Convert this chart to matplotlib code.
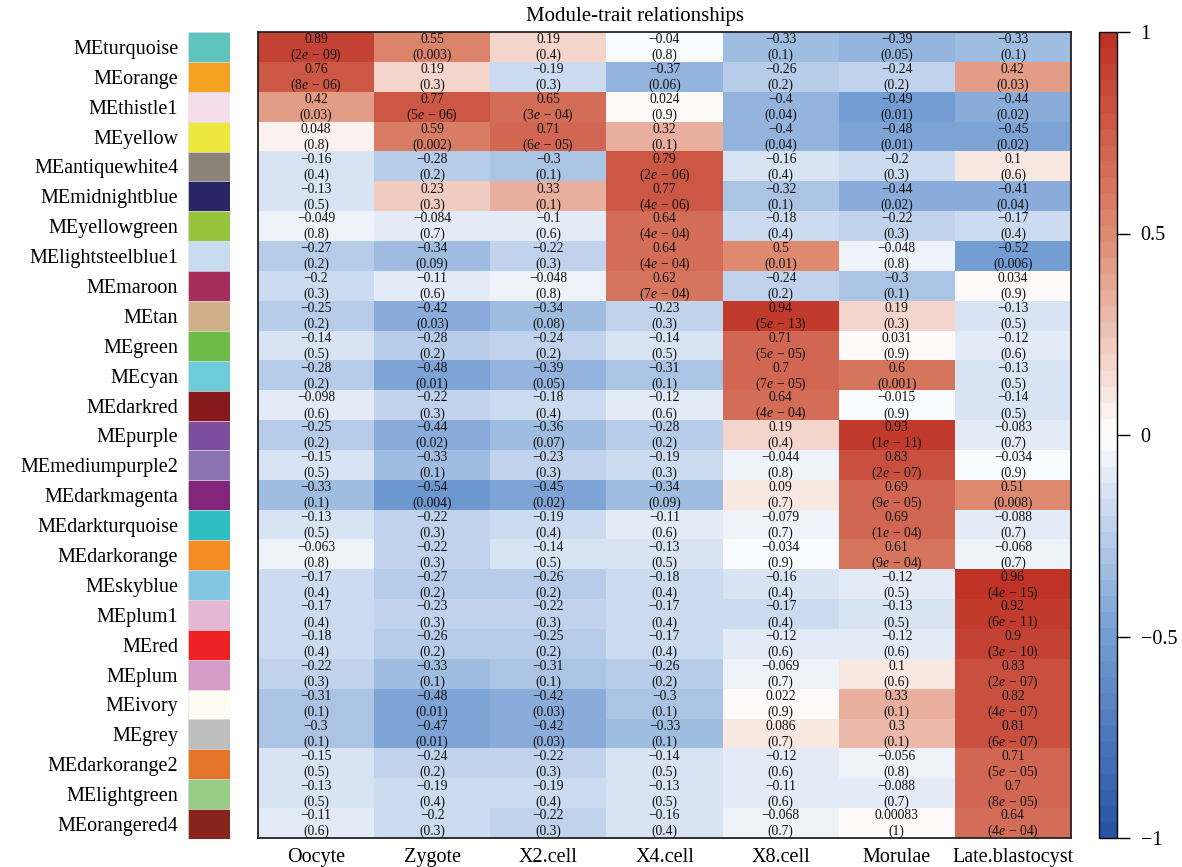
import numpy as np
import matplotlib
matplotlib.use("Agg")
import matplotlib.pyplot as plt
from matplotlib.colors import LinearSegmentedColormap, Normalize
from matplotlib.cm import ScalarMappable

plt.rcParams["font.family"] = ["Liberation Serif", "DejaVu Serif"]
plt.rcParams["mathtext.fontset"] = "custom"
plt.rcParams["mathtext.rm"] = "Liberation Serif"
plt.rcParams["mathtext.it"] = "Liberation Serif:italic"

# ---- data -------------------------------------------------------------
traits = ["Oocyte", "Zygote", "X2.cell", "X4.cell", "X8.cell", "Morulae", "Late.blastocyst"]

modules = ["MEturquoise", "MEorange", "MEthistle1", "MEyellow", "MEantiquewhite4",
           "MEmidnightblue", "MEyellowgreen", "MElightsteelblue1", "MEmaroon", "MEtan",
           "MEgreen", "MEcyan", "MEdarkred", "MEpurple", "MEmediumpurple2",
           "MEdarkmagenta", "MEdarkturquoise", "MEdarkorange", "MEskyblue", "MEplum1",
           "MEred", "MEplum", "MEivory", "MEgrey", "MEdarkorange2", "MElightgreen",
           "MEorangered4"]

module_colors = ["#5FC4BE", "#F5A223", "#F5DEEC", "#EEE83E", "#8B8378",
                 "#282664", "#96C43C", "#C8DCF0", "#A62C5A", "#D0B08A",
                 "#6CBC46", "#6ECCDA", "#87191C", "#7D4E9E", "#8C73B2",
                 "#82267D", "#30BEC3", "#F38C23", "#82C6E1", "#E4B8D4",
                 "#EE2224", "#D49CC6", "#FDFCF0", "#BEBEBE", "#E47428",
                 "#98CD87", "#87251C"]

correlations = [
    [0.89, 0.55, 0.19, -0.04, -0.33, -0.39, -0.33],
    [0.76, 0.19, -0.19, -0.37, -0.26, -0.24, 0.42],
    [0.42, 0.77, 0.65, 0.024, -0.4, -0.49, -0.44],
    [0.048, 0.59, 0.71, 0.32, -0.4, -0.48, -0.45],
    [-0.16, -0.28, -0.3, 0.79, -0.16, -0.2, 0.1],
    [-0.13, 0.23, 0.33, 0.77, -0.32, -0.44, -0.41],
    [-0.049, -0.084, -0.1, 0.64, -0.18, -0.22, -0.17],
    [-0.27, -0.34, -0.22, 0.64, 0.5, -0.048, -0.52],
    [-0.2, -0.11, -0.048, 0.62, -0.24, -0.3, 0.034],
    [-0.25, -0.42, -0.34, -0.23, 0.94, 0.19, -0.13],
    [-0.14, -0.28, -0.24, -0.14, 0.71, 0.031, -0.12],
    [-0.28, -0.48, -0.39, -0.31, 0.7, 0.6, -0.13],
    [-0.098, -0.22, -0.18, -0.12, 0.64, -0.015, -0.14],
    [-0.25, -0.44, -0.36, -0.28, 0.19, 0.93, -0.083],
    [-0.15, -0.33, -0.23, -0.19, -0.044, 0.83, -0.034],
    [-0.33, -0.54, -0.45, -0.34, 0.09, 0.69, 0.51],
    [-0.13, -0.22, -0.19, -0.11, -0.079, 0.69, -0.088],
    [-0.063, -0.22, -0.14, -0.13, -0.034, 0.61, -0.068],
    [-0.17, -0.27, -0.26, -0.18, -0.16, -0.12, 0.96],
    [-0.17, -0.23, -0.22, -0.17, -0.17, -0.13, 0.92],
    [-0.18, -0.26, -0.25, -0.17, -0.12, -0.12, 0.9],
    [-0.22, -0.33, -0.31, -0.26, -0.069, 0.1, 0.83],
    [-0.31, -0.48, -0.42, -0.3, 0.022, 0.33, 0.82],
    [-0.3, -0.47, -0.42, -0.33, 0.086, 0.3, 0.81],
    [-0.15, -0.24, -0.22, -0.14, -0.12, -0.056, 0.71],
    [-0.13, -0.19, -0.19, -0.13, -0.11, -0.088, 0.7],
    [-0.11, -0.2, -0.22, -0.16, -0.068, 0.00083, 0.64],
]

pvalues = [
    ["2e-09", "0.003", "0.4", "0.8", "0.1", "0.05", "0.1"],
    ["8e-06", "0.3", "0.3", "0.06", "0.2", "0.2", "0.03"],
    ["0.03", "5e-06", "3e-04", "0.9", "0.04", "0.01", "0.02"],
    ["0.8", "0.002", "6e-05", "0.1", "0.04", "0.01", "0.02"],
    ["0.4", "0.2", "0.1", "2e-06", "0.4", "0.3", "0.6"],
    ["0.5", "0.3", "0.1", "4e-06", "0.1", "0.02", "0.04"],
    ["0.8", "0.7", "0.6", "4e-04", "0.4", "0.3", "0.4"],
    ["0.2", "0.09", "0.3", "4e-04", "0.01", "0.8", "0.006"],
    ["0.3", "0.6", "0.8", "7e-04", "0.2", "0.1", "0.9"],
    ["0.2", "0.03", "0.08", "0.3", "5e-13", "0.3", "0.5"],
    ["0.5", "0.2", "0.2", "0.5", "5e-05", "0.9", "0.6"],
    ["0.2", "0.01", "0.05", "0.1", "7e-05", "0.001", "0.5"],
    ["0.6", "0.3", "0.4", "0.6", "4e-04", "0.9", "0.5"],
    ["0.2", "0.02", "0.07", "0.2", "0.4", "1e-11", "0.7"],
    ["0.5", "0.1", "0.3", "0.3", "0.8", "2e-07", "0.9"],
    ["0.1", "0.004", "0.02", "0.09", "0.7", "9e-05", "0.008"],
    ["0.5", "0.3", "0.4", "0.6", "0.7", "1e-04", "0.7"],
    ["0.8", "0.3", "0.5", "0.5", "0.9", "9e-04", "0.7"],
    ["0.4", "0.2", "0.2", "0.4", "0.4", "0.5", "4e-15"],
    ["0.4", "0.3", "0.3", "0.4", "0.4", "0.5", "6e-11"],
    ["0.4", "0.2", "0.2", "0.4", "0.6", "0.6", "3e-10"],
    ["0.3", "0.1", "0.1", "0.2", "0.7", "0.6", "2e-07"],
    ["0.1", "0.01", "0.03", "0.1", "0.9", "0.1", "4e-07"],
    ["0.1", "0.01", "0.03", "0.1", "0.7", "0.1", "6e-07"],
    ["0.5", "0.2", "0.3", "0.5", "0.6", "0.8", "5e-05"],
    ["0.5", "0.4", "0.4", "0.5", "0.6", "0.7", "8e-05"],
    ["0.6", "0.3", "0.3", "0.4", "0.7", "1", "4e-04"],
]

colorbar_ticks = [-1, -0.5, 0, 0.5, 1]

# ---- colour scale (blue - white - red, 50 steps) ----------------------
cmap = LinearSegmentedColormap.from_list(
    "blueWhiteRed",
    [(0.00, (0.16, 0.33, 0.65)),
     (0.25, (0.46, 0.62, 0.83)),
     (0.50, (1.00, 1.00, 1.00)),
     (0.75, (0.87, 0.55, 0.45)),
     (1.00, (0.75, 0.20, 0.15))],
    N=50)
norm = Normalize(vmin=-1, vmax=1)

W, H = 1182, 867
fig = plt.figure(figsize=(W / 100, H / 100), dpi=100)


def px_axes(x0, y0, x1, y1):
    return fig.add_axes([x0 / W, 1 - y1 / H, (x1 - x0) / W, (y1 - y0) / H])


nrow, ncol = len(modules), len(traits)
data = np.array(correlations)

# ---- heatmap ----------------------------------------------------------
ax = px_axes(258, 32, 1071, 838)
ax.pcolormesh(np.arange(ncol + 1), np.arange(nrow + 1), data,
              cmap=cmap, norm=norm, edgecolors="none")
ax.set_xlim(0, ncol)
ax.set_ylim(nrow, 0)
ax.set_xticks(np.arange(ncol) + 0.5)
ax.set_xticklabels(traits, fontsize=14.5)
ax.tick_params(axis="x", length=0, pad=7)
ax.set_yticks([])
for s in ax.spines.values():
    s.set_linewidth(1.3)
    s.set_color("#222222")


def fmt_val(v):
    return ("%g" % v).replace("-", "\u2212")


def fmt_p(p):
    if "e" in p:
        m, e = p.split("e")
        return r"$(%s\mathit{e}\,-\,%s)$" % (m, e.lstrip("-"))
    return "(%s)" % p


for i in range(nrow):
    for j in range(ncol):
        ax.text(j + 0.5, i + 0.26, fmt_val(data[i, j]), ha="center", va="center",
                fontsize=9.8, color="#111111")
        ax.text(j + 0.5, i + 0.79, fmt_p(pvalues[i][j]), ha="center", va="center",
                fontsize=9.8, color="#111111")

# ---- module colour swatches -------------------------------------------
sw = px_axes(188, 32, 230, 839)
sw.barh(np.arange(nrow) + 0.5, 1, height=1, color=module_colors,
        edgecolor="#dddddd", linewidth=0.4)
sw.set_xlim(0, 1)
sw.set_ylim(nrow, 0)
sw.set_xticks([])
sw.set_yticks(np.arange(nrow) + 0.5)
sw.set_yticklabels(modules, fontsize=14.5)
sw.tick_params(axis="y", length=0, pad=7)
for s in sw.spines.values():
    s.set_visible(False)

# ---- colour bar -------------------------------------------------------
cax = px_axes(1099, 32, 1117, 838)
cb = fig.colorbar(ScalarMappable(norm=norm, cmap=cmap), cax=cax, ticks=colorbar_ticks)
cb.ax.set_yticklabels([fmt_val(t) for t in colorbar_ticks], fontsize=14.5)
cb.ax.tick_params(length=9, width=1, pad=8, direction="out")
cb.outline.set_linewidth(1.0)

fig.text(634.5 / W, 1 - 16 / H, "Module-trait relationships", ha="center",
         va="center", fontsize=15)

fig.savefig("out.png", dpi=100)
